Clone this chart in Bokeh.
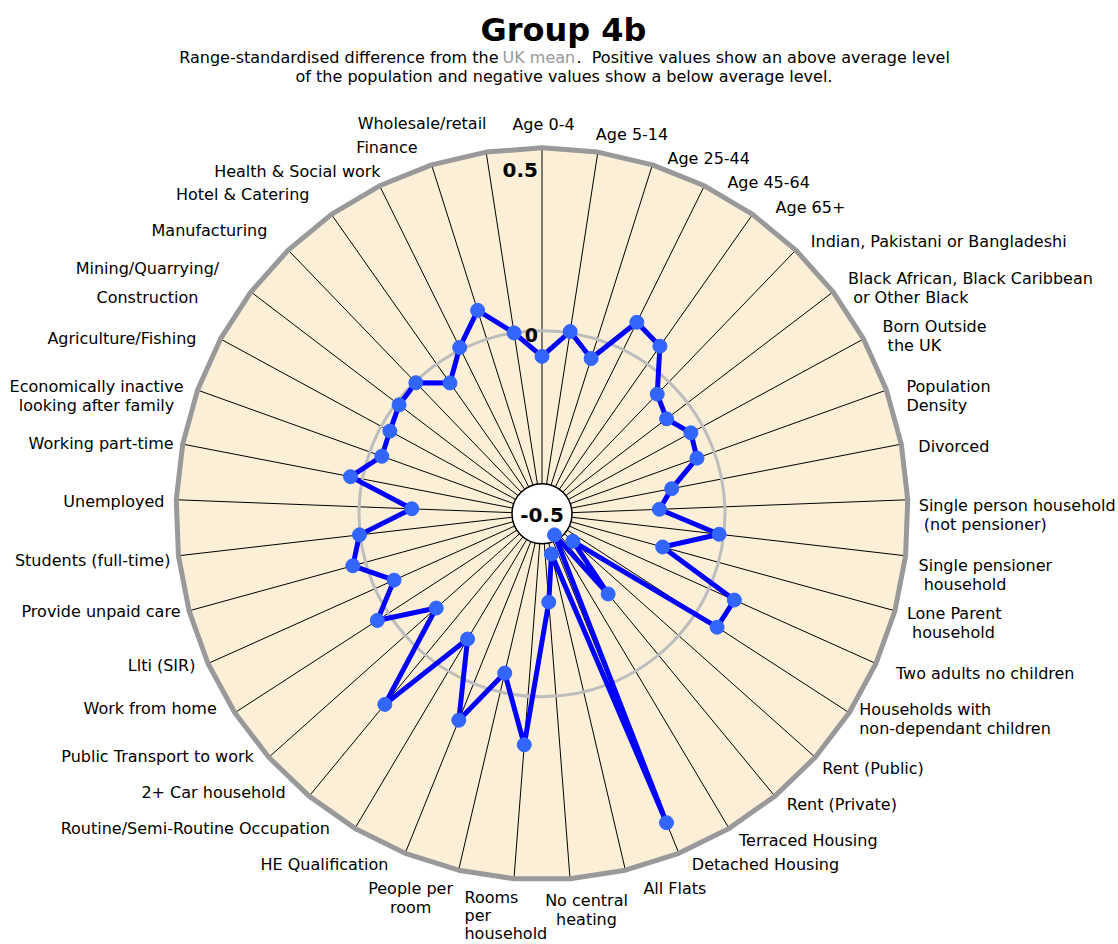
import math
from bokeh.plotting import figure
from bokeh.models import Range1d
from bokeh.core.properties import value
from bokeh.embed import file_html
from bokeh.resources import INLINE

# ---------------- data ----------------
CATEGORIES = [
    "Age 0-4", "Age 5-14", "Age 25-44", "Age 45-64", "Age 65+",
    "Indian, Pakistani or Bangladeshi",
    "Black African, Black Caribbean\n or Other Black",
    "Born Outside\n the UK",
    "Population\nDensity",
    "Divorced",
    "Single person household\n (not pensioner)",
    "Single pensioner\n household",
    "Lone Parent\n household",
    "Two adults no children",
    "Households with\nnon-dependant children",
    "Rent (Public)", "Rent (Private)", "Terraced Housing", "Detached Housing",
    "All Flats",
    "No central\nheating",
    "Rooms\nper\nhousehold",
    "People per\nroom",
    "HE Qualification",
    "Routine/Semi-Routine Occupation",
    "2+ Car household",
    "Public Transport to work",
    "Work from home",
    "Llti (SIR)",
    "Provide unpaid care",
    "Students (full-time)",
    "Unemployed",
    "Working part-time",
    "Economically inactive\nlooking after family",
    "Agriculture/Fishing",
    "Mining/Quarrying/\nConstruction",
    "Manufacturing",
    "Hotel & Catering",
    "Health & Social work",
    "Finance",
    "Wholesale/retail",
]

VALUES = [
    -0.070, 0.004, -0.055, 0.084, 0.060,
    -0.046, -0.072, -0.037, -0.050, -0.139,
    -0.179, -0.013, -0.158, 0.076, 0.070,
    -0.387, -0.216, -0.433, 0.410, -0.387,
    -0.258, 0.133, -0.053, 0.108, -0.102,
    0.175, -0.113, 0.036, -0.057, 0.036,
    0.002, -0.144, 0.033, -0.035, -0.027,
    -0.009, -0.003, -0.063, 0.007, 0.083,
    0.000,
]

RADIAL_TICKS = [-0.5, 0.0, 0.5]
RADIAL_TICK_LABELS = ["-0.5", "0", "0.5"]

TITLE = "Group 4b"
SUB_1A = "Range-standardised difference from the"
SUB_1B = "UK mean"
SUB_1C = ".\u00a0 Positive values show an above average level"
SUB_2 = "of the population and negative values show a below average level."

# ---------------- layout ----------------
CX, CY = 541.5, 513.3       # page px
R_OUT = 366.0
VMIN, VMAX = -0.5, 0.5
FONT = value("DejaVu Sans")

# label anchor offsets from spoke end (dx, dy, align)
LABEL_LAYOUT = [
    (1.5, -23, "center"), (-2, -18, "left"), (15, -6, "left"), (23, -3, "left"),
    (23, -7, "left"), (15, -9, "left"), (15, -4, "left"), (19, -3, "left"),
    (20, 6, "left"), (17, 2, "left"), (11, 15, "left"), (13, 19, "left"),
    (12, 12, "left"), (20, 10, "left"), (10, 6, "left"), (7, 11, "left"),
    (12, 8, "left"), (10, 12, "left"), (13, 11, "left"), (18, 18, "left"),
    (16.5, 31.5, "center"), (-49.5, 37.0, "left"), (-48, 27.8, "center"),
    (-16.7, 11.2, "right"), (-25, 0, "right"), (-23.6, -3.7, "right"),
    (-15, -1, "right"), (-18, -4, "right"), (-12.6, 2, "right"),
    (-8.6, 0.7, "right"), (-8, 4.7, "right"), (-11.8, 1.7, "right"),
    (-9, -0.6, "right"), (-101, 6, "center"), (-24, 0, "right"),
    (-103.5, -9, "center"), (-20.8, -19.6, "right"), (-22, -20, "right"),
    (1, -14, "right"), (-14, -17, "right"), (0.4, -28.6, "right"),
]
LINE_H = [29 if c.startswith("Mining") else (18 if c.startswith("Rooms") else 19)
          for c in CATEGORIES]

n = len(CATEGORIES)
angles = [2 * math.pi * i / n for i in range(n)]


def rad(v):
    return (v - VMIN) / (VMAX - VMIN) * R_OUT


def pt(r, a):
    return CX + r * math.sin(a), CY - r * math.cos(a)


W, H = 1118, 944
p = figure(width=W, height=H, x_range=Range1d(0, W), y_range=Range1d(H, 0),
           output_backend="svg", toolbar_location=None, min_border=0)
p.axis.visible = False
p.grid.visible = False
p.outline_line_color = None
p.background_fill_color = "white"

# background polygon
ox = [pt(R_OUT, a)[0] for a in angles]
oy = [pt(R_OUT, a)[1] for a in angles]
p.patch(ox, oy, fill_color="#FBEFD8", line_color=None)

# spokes
p.segment(x0=[CX] * n, y0=[CY] * n, x1=ox, y1=oy, line_color="black", line_width=1)

# zero ring
p.circle(x=[CX], y=[CY], radius=rad(0.0), fill_color=None,
         line_color="#BDBDBD", line_width=3)

# outer border
p.patch(ox, oy, fill_color=None, line_color="#999999", line_width=5, line_join="round")

# centre disc
p.circle(x=[CX], y=[CY], radius=30, fill_color="white", line_color="black", line_width=1.5)

# radial tick labels
p.text(x=[CX], y=[CY + 1], text=[RADIAL_TICK_LABELS[0]], text_align="center",
       text_baseline="middle", text_font=FONT, text_font_style="bold",
       text_font_size="20px", text_color="black")
p.text(x=[CX - 4], y=[CY - rad(RADIAL_TICKS[1]) + 4], text=[RADIAL_TICK_LABELS[1]],
       text_align="right", text_baseline="middle", text_font=FONT,
       text_font_style="bold", text_font_size="19px", text_color="black")
p.text(x=[CX - 4], y=[CY - rad(RADIAL_TICKS[2]) + 22], text=[RADIAL_TICK_LABELS[2]],
       text_align="right", text_baseline="middle", text_font=FONT,
       text_font_style="bold", text_font_size="20px", text_color="black")

# category labels
groups = {"left": ([], [], []), "right": ([], [], []), "center": ([], [], [])}
for i, cat in enumerate(CATEGORIES):
    ex, ey = pt(R_OUT, angles[i])
    dx, dy, al = LABEL_LAYOUT[i]
    lines = cat.split("\n")
    lh = LINE_H[i]
    ax, ay = ex + dx, ey + dy
    top = ay - lh * (len(lines) - 1) / 2.0
    for k, ln in enumerate(lines):
        if ln.startswith(" "):
            ln = "\u00a0" + ln[1:]
        g = groups[al]
        g[0].append(ax)
        g[1].append(top + k * lh)
        g[2].append(ln)
for al, (xs, ys, ts) in groups.items():
    if xs:
        p.text(x=xs, y=ys, text=ts, text_align=al, text_baseline="middle",
               text_font=FONT, text_font_size="16px", text_color="black")

# data series
px = [pt(rad(v), a)[0] for v, a in zip(VALUES, angles)]
py = [pt(rad(v), a)[1] for v, a in zip(VALUES, angles)]
p.line(px + [px[0]], py + [py[0]], line_color="#0000FF", line_width=5, line_join="round")
p.scatter(px, py, size=14, fill_color="#3366FF", line_color="#3366FF")

# title + subtitle
p.text(x=[563], y=[29], text=[TITLE], text_align="center", text_baseline="middle",
       text_font=FONT, text_font_style="bold", text_font_size="32px", text_color="black")
p.text(x=[498], y=[57], text=[SUB_1A], text_align="right", text_baseline="middle",
       text_font=FONT, text_font_size="16px", text_color="black")
p.text(x=[502], y=[57], text=[SUB_1B], text_align="left", text_baseline="middle",
       text_font=FONT, text_font_size="16px", text_color="#999999")
p.text(x=[576], y=[57], text=[SUB_1C], text_align="left", text_baseline="middle",
       text_font=FONT, text_font_size="16px", text_color="black")
p.text(x=[563.5], y=[76], text=[SUB_2], text_align="center", text_baseline="middle",
       text_font=FONT, text_font_size="16px", text_color="black")

open("out.html", "w").write(file_html(p, INLINE))
